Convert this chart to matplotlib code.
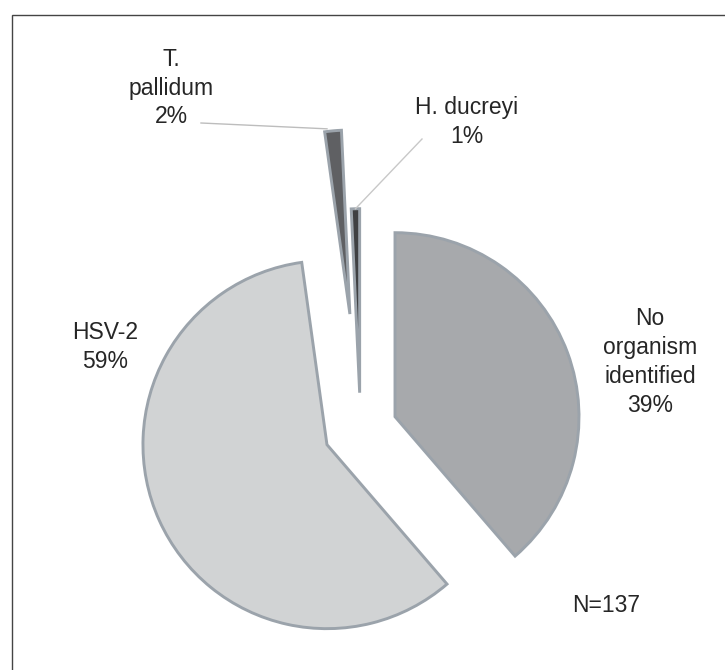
import numpy as np
import matplotlib
matplotlib.use("Agg")
import matplotlib.pyplot as plt
from matplotlib.patches import Rectangle

# ~~~ data (N=137) ~~~
names = ["No\norganism\nidentified", "HSV-2", "T.\npallidum", "H. ducreyi"]
counts = [53, 81, 2, 1]
pct_text = ["39%", "59%", "2%", "1%"]
colors = ["#a7a9ac", "#d1d3d4", "#5f6063", "#3f4042"]
explode = [0.2, 0.2, 0.63, 0.2]   # fraction of radius

plt.rcParams['font.family'] = ['Liberation Sans', 'DejaVu Sans']

W, H = 725, 670
fig = plt.figure(figsize=(W / 100, H / 100), dpi=100)
ax = fig.add_axes([0, 0, 1, 1])

cx, cy, R = 360.5, H - 429.5, 184
wedges, _ = ax.pie(counts, explode=[e * R for e in explode], colors=colors,
                   startangle=90, counterclock=False, center=(cx, cy),
                   radius=R, frame=True,
                   wedgeprops=dict(edgecolor="#9ba3ab", linewidth=2.1))
ax.set_xlim(0, W)
ax.set_ylim(0, H)
ax.set_aspect('equal')
ax.axis('off')

# frame around the chart area (right/bottom run off the picture)
ax.add_patch(Rectangle((12, -10), W, H - 15 + 10, fill=False,
                       edgecolor="#444444", linewidth=1.0))

fs = 16.5
txt = dict(fontsize=fs, color="#262626", ha='center', va='center',
           linespacing=1.33)
label_pos = [(650, H - 362), (105, H - 347), (171, H - 88), (467, H - 122)]
for nm, p, (lx, ly) in zip(names, pct_text, label_pos):
    ax.text(lx, ly, nm + "\n" + p, **txt)

# leader lines to the two thin slices, ending at the outer tip of each wedge
def tip(w):
    th = np.deg2rad((w.theta1 + w.theta2) / 2)
    return w.center[0] + w.r * np.cos(th), w.center[1] + w.r * np.sin(th)

tx, ty = tip(wedges[2])
ax.plot([201, tx - 6], [H - 123, ty + 2], color="#bdbdbd", lw=1.0)
hx, hy = tip(wedges[3])
ax.plot([422, hx], [H - 139, hy], color="#c8c8c8", lw=1.0)

ax.text(606, H - 606, "N=137", fontsize=fs, color="#262626",
        ha='center', va='center')

fig.savefig("out.png", dpi=100)
